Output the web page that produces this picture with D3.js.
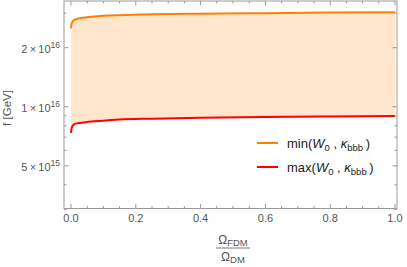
<!DOCTYPE html>
<html>
<head>
<meta charset="utf-8">
<script src="https://cdn.jsdelivr.net/npm/d3@7"></script>
<style>
  body { margin: 0; background: #fff; }
  text { font-family: "Liberation Sans", Arial, sans-serif; }
</style>
</head>
<body>
<div id="chart"></div>
<script>
// fraction of dark matter as fuzzy DM
var xVals = [0, 0.002, 0.007, 0.017, 0.048, 0.09, 0.15, 0.25, 0.4, 0.6, 0.8, 1.0]
// min(W0, kappa_bbb) curve, GeV
var minVals = [2.51e16, 2.66e16, 2.75e16, 2.80e16, 2.86e16, 2.90e16, 2.93e16, 2.96e16, 2.98e16, 3.00e16, 3.02e16, 3.03e16]
// max(W0, kappa_bbb) curve, GeV
var maxVals = [7.37e15, 7.76e15, 8.07e15, 8.23e15, 8.35e15, 8.47e15, 8.61e15, 8.70e15, 8.80e15, 8.88e15, 8.93e15, 8.97e15]

var xMajor = [0, 0.2, 0.4, 0.6, 0.8, 1.0]
var yMajor = [5e15, 1e16, 2e16]
var yMajorLabels = [["5", "15"], ["1", "16"], ["2", "16"]]
var yMinor = [3e15, 4e15, 6e15, 7e15, 8e15, 9e15, 3e16]
var legendLabels = ["min", "max"]

var width = 407, height = 267
var frame = {left: 64, right: 397, top: 1, bottom: 208.5}

var svg = d3.select("#chart").append("svg")
    .attr("width", width)
    .attr("height", height)

var x = d3.scaleLinear().domain([0, 1]).range([71, 395])
var y = d3.scaleLog().domain([3.03e15, 3.46e16]).range([frame.bottom, frame.top])

var data = xVals.map(function(d, i) { return {x: d, lo: maxVals[i], hi: minVals[i]} })

var orange = "#ff8000", red = "#ff0000", gray = "#9a9a9a", labelGray = "#555"

// shaded band between the two curves
svg.append("path")
  .datum(data)
  .attr("fill", "#ffe6cc")
  .attr("d", d3.area()
    .curve(d3.curveMonotoneX)
    .x(function(d) { return x(d.x) })
    .y0(function(d) { return y(d.lo) })
    .y1(function(d) { return y(d.hi) }))

svg.append("path")
  .datum(data)
  .attr("fill", "none")
  .attr("stroke", orange)
  .attr("stroke-width", 2)
  .attr("d", d3.line().curve(d3.curveMonotoneX)
    .x(function(d) { return x(d.x) })
    .y(function(d) { return y(d.hi) }))

svg.append("path")
  .datum(data)
  .attr("fill", "none")
  .attr("stroke", red)
  .attr("stroke-width", 2)
  .attr("d", d3.line().curve(d3.curveMonotoneX)
    .x(function(d) { return x(d.x) })
    .y(function(d) { return y(d.lo) }))

// frame
svg.append("rect")
  .attr("x", frame.left).attr("y", frame.top)
  .attr("width", frame.right - frame.left)
  .attr("height", frame.bottom - frame.top)
  .attr("fill", "none")
  .attr("stroke", gray)
  .attr("stroke-width", 1)

// x ticks (bottom + top mirror)
var xTicks = d3.range(0, 21).map(function(i) { return i / 20 })
xTicks.forEach(function(t) {
  var major = Math.round(t * 100) % 20 === 0
  var len = major ? 4.5 : 2.5
  svg.append("line")
    .attr("x1", x(t)).attr("x2", x(t))
    .attr("y1", frame.bottom).attr("y2", frame.bottom - len)
    .attr("stroke", gray)
  svg.append("line")
    .attr("x1", x(t)).attr("x2", x(t))
    .attr("y1", frame.top).attr("y2", frame.top + len)
    .attr("stroke", gray)
})

svg.selectAll(".xlab")
  .data(xMajor)
  .enter().append("text")
    .attr("x", function(d) { return x(d) })
    .attr("y", 221.5)
    .attr("text-anchor", "middle")
    .attr("font-size", 11)
    .attr("fill", labelGray)
    .text(function(d) { return d.toFixed(1) })

// y ticks (left + right mirror)
yMajor.concat(yMinor).forEach(function(v, i) {
  var len = i < yMajor.length ? 4.5 : 2.5
  svg.append("line")
    .attr("x1", frame.left).attr("x2", frame.left + len)
    .attr("y1", y(v)).attr("y2", y(v))
    .attr("stroke", gray)
  svg.append("line")
    .attr("x1", frame.right).attr("x2", frame.right - len)
    .attr("y1", y(v)).attr("y2", y(v))
    .attr("stroke", gray)
})

yMajor.forEach(function(v, i) {
  var t = svg.append("text")
    .attr("x", 60)
    .attr("y", y(v) + 5.5)
    .attr("text-anchor", "end")
    .attr("font-size", 11)
    .attr("fill", labelGray)
  t.append("tspan").text(yMajorLabels[i][0] + "\u2009\u00d7\u200910")
  t.append("tspan").attr("dy", -5.5).attr("font-size", 8.5).text(yMajorLabels[i][1])
})

// y axis label
svg.append("text")
  .attr("transform", "translate(11,108) rotate(-90)")
  .attr("text-anchor", "middle")
  .attr("font-size", 11.5)
  .attr("fill", labelGray)
  .text("f [GeV]")

// x axis label: fraction
var fx = 233
var num = svg.append("text")
  .attr("x", fx).attr("y", 244)
  .attr("text-anchor", "middle")
  .attr("font-size", 12)
  .attr("fill", labelGray)
num.append("tspan").text("\u03a9")
num.append("tspan").attr("dy", 2).attr("font-size", 9.5).text("FDM")
svg.append("line")
  .attr("x1", fx - 17).attr("x2", fx + 17)
  .attr("y1", 248).attr("y2", 248)
  .attr("stroke", labelGray).attr("stroke-width", 0.8)
var den = svg.append("text")
  .attr("x", fx).attr("y", 261)
  .attr("text-anchor", "middle")
  .attr("font-size", 12)
  .attr("fill", labelGray)
den.append("tspan").text("\u03a9")
den.append("tspan").attr("dy", 2).attr("font-size", 9.5).text("DM")

// legend
var legendColors = [orange, red]
var legend = svg.selectAll(".leg")
  .data(legendLabels)
  .enter().append("g")
    .attr("transform", function(d, i) { return "translate(257," + (143 + i * 24) + ")" })

legend.append("line")
  .attr("x1", 0).attr("x2", 21)
  .attr("stroke", function(d, i) { return legendColors[i] })
  .attr("stroke-width", 2)

legend.each(function(d) {
  var t = d3.select(this).append("text")
    .attr("x", 30).attr("y", 4.5)
    .attr("font-size", 13)
    .attr("fill", "#222")
  t.append("tspan").text(d + "(")
  t.append("tspan").attr("font-style", "italic").text("W")
  t.append("tspan").attr("dy", 3).attr("font-size", 9.5).text("0")
  t.append("tspan").attr("dy", -3).text(" , ")
  t.append("tspan").attr("font-style", "italic").text("\u03ba")
  t.append("tspan").attr("dy", 3).attr("font-size", 9.5).text("bbb")
  t.append("tspan").attr("dy", -3).text("\u2009)")
})
</script>
</body>
</html>
